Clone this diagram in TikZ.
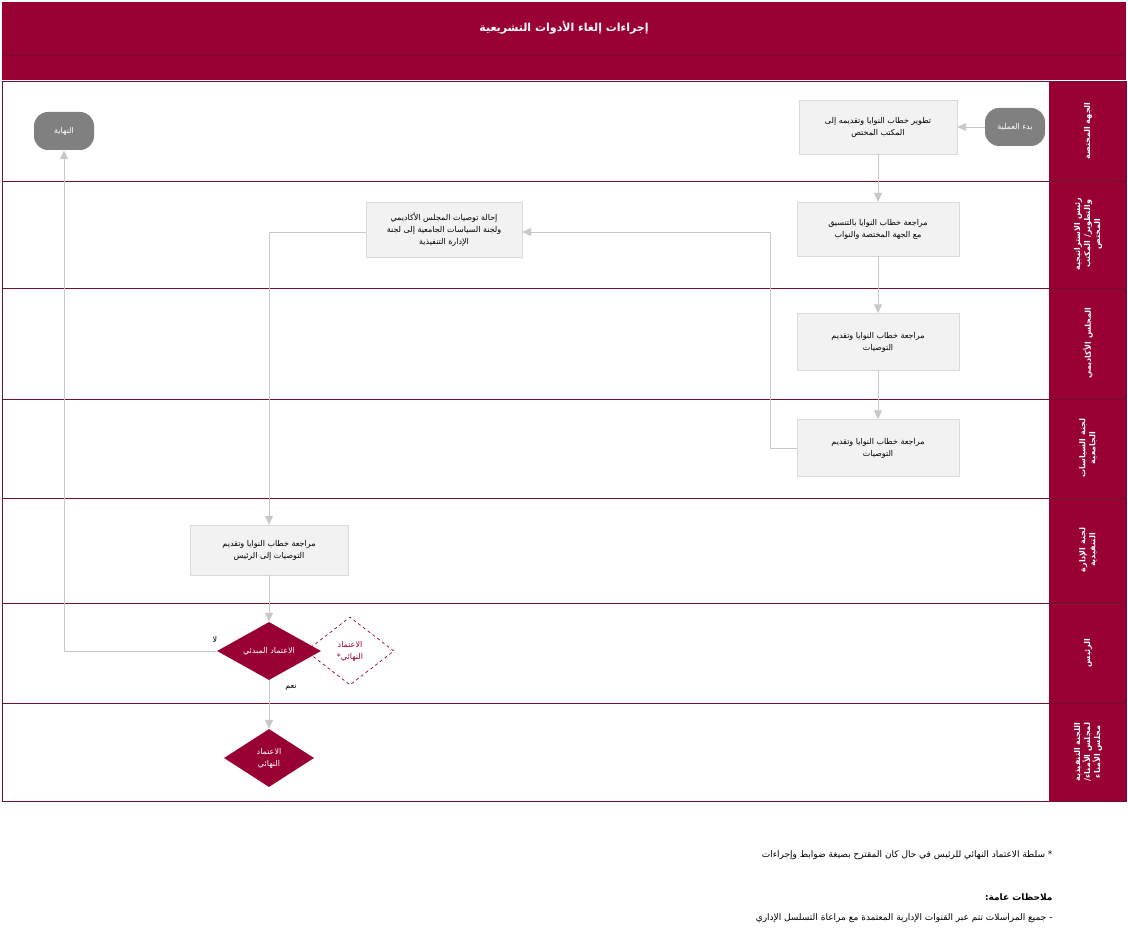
\documentclass[tikz,border=0pt]{standalone}
\usepackage{fontspec}
\setmainfont{DejaVu Sans}
\newfontfamily\arabicfont[Script=Arabic]{DejaVu Sans}
\TeXXeTstate=1
\usetikzlibrary{shapes.geometric,arrows.meta}
\newcommand{\ar}[1]{{\arabicfont\beginR #1\endR}}
\definecolor{maroon}{HTML}{990033}
\definecolor{lanel}{HTML}{6B1030}
\definecolor{boxg}{HTML}{F2F2F2}
\definecolor{conn}{HTML}{C8C8C8}
\definecolor{term}{HTML}{808080}
\tikzset{
 x=1pt,y=-1pt,
 box/.style={fill=boxg,draw=boxg!90!black,minimum width=158pt,minimum height=54pt,align=center,font=\fontsize{8}{12}\selectfont,inner sep=2pt},
 term/.style={fill=term,rounded corners=14pt,minimum width=60pt,minimum height=38pt,text=white,font=\fontsize{8}{11}\selectfont},
 dec/.style={diamond,fill=maroon,text=white,aspect=1.8,inner sep=0pt,align=center,font=\fontsize{8}{12}\selectfont},
 flow/.style={draw=conn,line width=0.8pt,-{Triangle[length=9pt,width=8pt]}},
 lanelab/.style={rotate=90,text=white,align=center,font=\bfseries\fontsize{8}{10}\selectfont},
 lbl/.style={font=\fontsize{8}{10}\selectfont}
}
\begin{document}
\begin{tikzpicture}
\useasboundingbox (0,0) rectangle (1128,941);
% header
\fill[maroon] (2,2) rectangle (1126,80);
\draw[lanel,line width=0.6pt] (2,55) -- (1126,55);
\node[text=white,font=\bfseries\fontsize{11}{13}\selectfont] (title) at (564,28) {\ar{إجراءات إلغاء الأدوات التشريعية}};
% lanes
\fill[maroon] (1049,81) rectangle (1126,801);
\draw[lanel,line width=0.7pt] (2,81) rectangle (1126,801);
\foreach \yy in {181,288,399,498,603,703} \draw[lanel,line width=0.7pt] (2,\yy) -- (1126,\yy);
\node[lanelab] (l1) at (1088,131) {\ar{الجهة المختصة}};
\node[lanelab] (l2) at (1088,234) {\ar{رئيس الاستراتيجية}\\\ar{والتطوير/ المكتب}\\\ar{المختص}};
\node[lanelab] (l3) at (1088,343) {\ar{المجلس الأكاديمي}};
\node[lanelab] (l4) at (1088,448) {\ar{لجنة السياسات}\\\ar{الجامعية}};
\node[lanelab] (l5) at (1088,550) {\ar{لجنة الإدارة}\\\ar{التنفيذية}};
\node[lanelab] (l6) at (1088,653) {\ar{الرئيس}};
\node[lanelab] (l7) at (1088,752) {\ar{اللجنة التنفيذية}\\\ar{لمجلس الأمناء/}\\\ar{مجلس الأمناء}};
% nodes
\node[term] (start) at (1015,127) {\ar{بدء العملية}};
\node[box] (n1) at (878,127) {\ar{تطوير خطاب النوايا وتقديمه إلى}\\\ar{المكتب المختص}};
\node[box,minimum width=162pt] (n2) at (878,229) {\ar{مراجعة خطاب النوايا بالتنسيق}\\\ar{مع الجهة المختصة والنواب}};
\node[box,minimum width=162pt,minimum height=57pt] (n3) at (878,342) {\ar{مراجعة خطاب النوايا وتقديم}\\\ar{التوصيات}};
\node[box,minimum width=162pt,minimum height=57pt] (n4) at (878,448) {\ar{مراجعة خطاب النوايا وتقديم}\\\ar{التوصيات}};
\node[box,minimum width=156pt,minimum height=55pt] (n5) at (444,230) {\ar{إحالة توصيات المجلس الأكاديمي}\\\ar{ولجنة السياسات الجامعية إلى لجنة}\\\ar{الإدارة التنفيذية}};
\node[box,minimum height=50pt] (n6) at (269,550) {\ar{مراجعة خطاب النوايا وتقديم}\\\ar{التوصيات إلى الرئيس}};
\node[term] (end) at (64,131) {\ar{النهاية}};
\node[diamond,draw=maroon,dashed,line width=0.7pt,minimum width=88pt,minimum height=68pt,inner sep=0pt,align=center,text=maroon,font=\fontsize{8}{12}\selectfont] (d2) at (350,651) {\ar{الاعتماد}\\\ar{النهائي*}};
\node[dec,minimum width=104pt,minimum height=58pt] (d1) at (269,651) {\ar{الاعتماد المبدئي}};
\node[dec,minimum width=90pt,minimum height=58pt] (d3) at (269,758) {\ar{الاعتماد}\\\ar{النهائي}};
% connectors
\draw[flow] (start) -- (n1);
\draw[flow] (n1) -- (n2);
\draw[flow] (n2) -- (n3);
\draw[flow] (n3) -- (n4);
\draw[flow] (n4.west) -- (770,448) -- (770,232) -- (n5.east |- 0,232);
\draw[flow] (n5.west |- 0,232) -- (269,232) -- (n6.north);
\draw[flow] (n6) -- (d1);
\draw[flow] (d1.west) -- (64,651) -- (end.south);
\draw[flow] (d1.south) -- (d3.north);
\node[lbl] (no) at (215,639) {\ar{لا}};
\node[lbl] (yes) at (291,688) {\ar{نعم}};
% notes
\node[anchor=east,font=\fontsize{9}{11}\selectfont] (f1) at (1056,855) {\ar{* سلطة الاعتماد النهائي للرئيس في حال كان المقترح بصيغة ضوابط وإجراءات}};
\node[anchor=east,font=\bfseries\fontsize{9}{11}\selectfont] (f2) at (1056,897) {\ar{ملاحظات عامة:}};
\node[anchor=east,font=\fontsize{9}{11}\selectfont] (f3) at (1056,918) {\ar{- جميع المراسلات تتم عبر القنوات الإدارية المعتمدة مع مراعاة التسلسل الإداري}};
\end{tikzpicture}
\end{document}
